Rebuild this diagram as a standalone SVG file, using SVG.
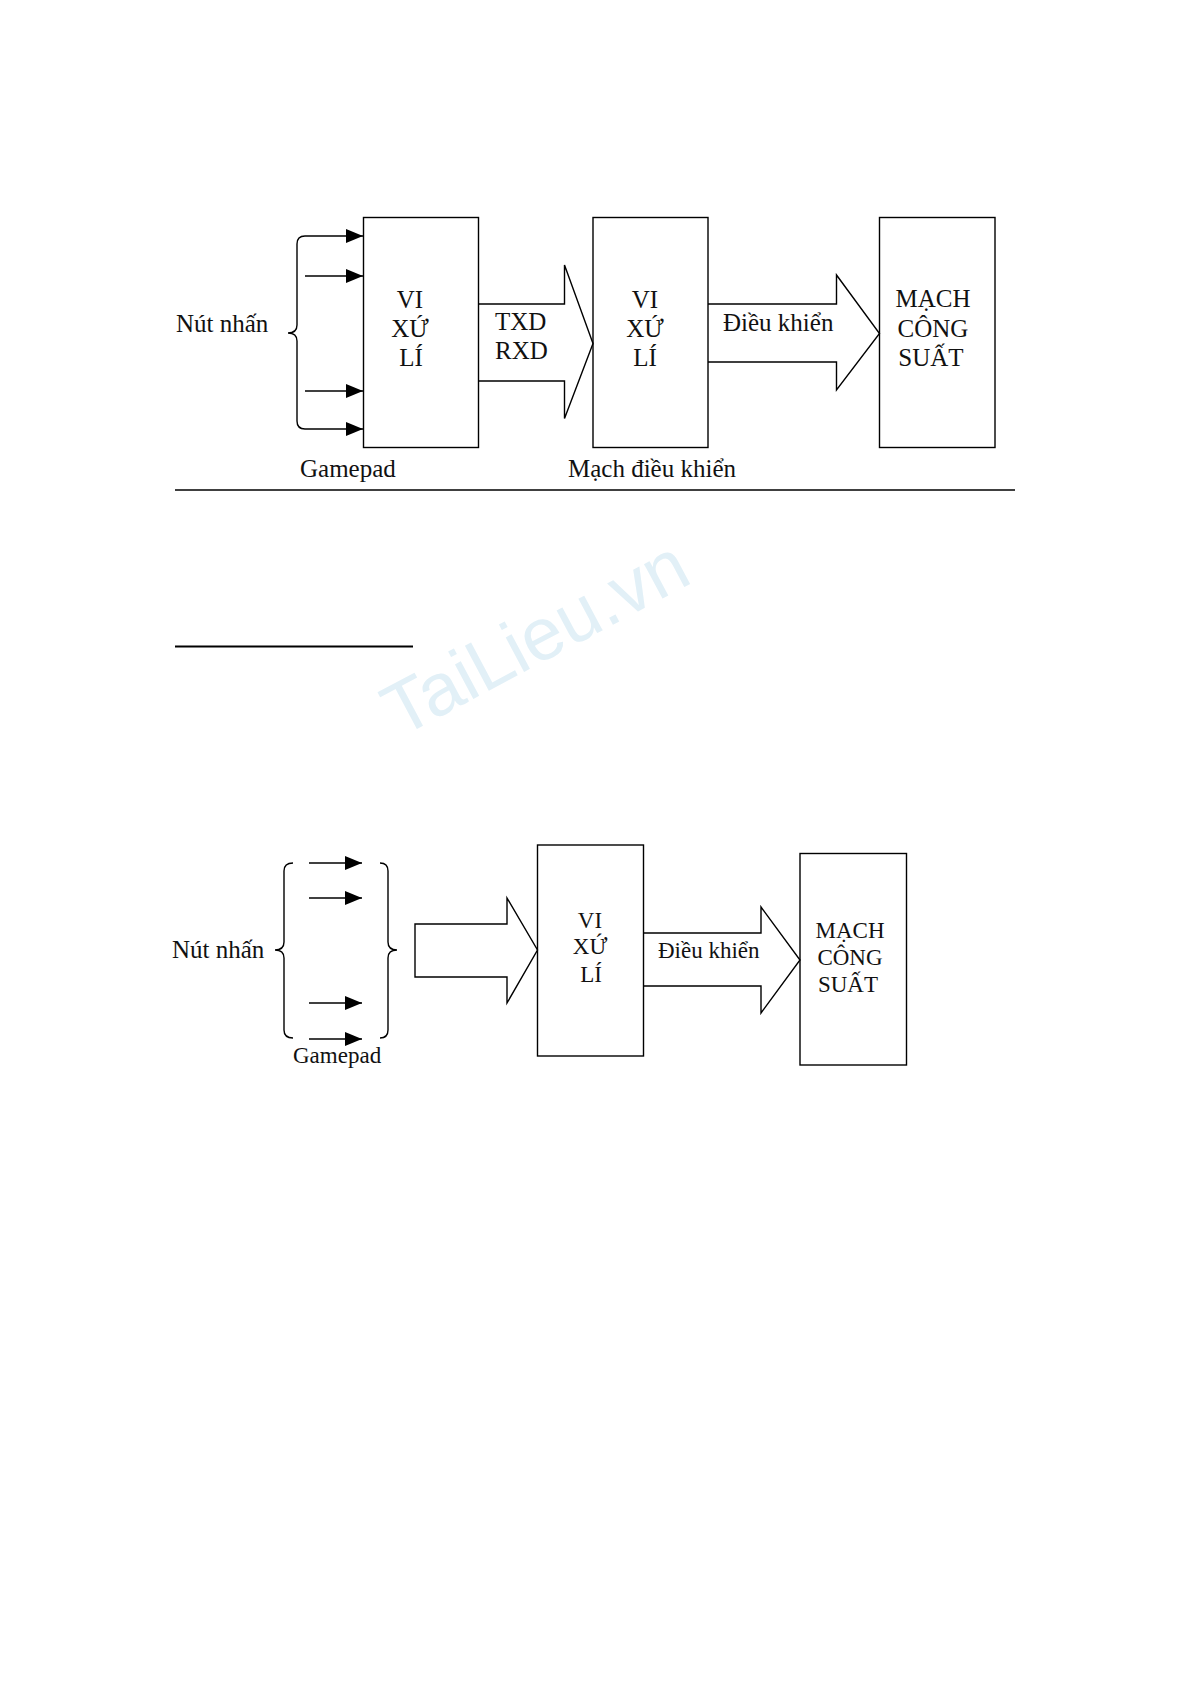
<svg xmlns="http://www.w3.org/2000/svg" width="1191" height="1685" viewBox="0 0 1191 1685">
<style>
.bx{fill:none;stroke:#000;stroke-width:1.4}
.ln{fill:none;stroke:#000;stroke-width:1.4}
.t1{font-family:"Liberation Serif","Times New Roman",serif;font-size:25px;fill:#111}
.t2{font-family:"Liberation Serif","Times New Roman",serif;font-size:23px;fill:#111}
.m{text-anchor:middle}
</style>
<defs>
<marker id="ah" markerUnits="userSpaceOnUse" markerWidth="17" markerHeight="14" refX="17" refY="7" orient="auto">
<path d="M0,0 L17,7 L0,14 Z" fill="#000"/>
</marker>
</defs>
<rect x="0" y="0" width="1191" height="1685" fill="#fff"/>
<text x="400" y="738" transform="rotate(-28 400 738)" font-family="'Liberation Sans',Arial,sans-serif" font-size="74" fill="#e2f0f7">TaiLieu.vn</text>

<!-- Diagram 1 -->
<g id="brace1">
<path class="ln" d="M305,236 Q297,236 297,244 L297,325 Q297,333 288,333 Q297,333 297,341 L297,421 Q297,429 305,429"/>
<text class="t1" x="176" y="332">Nút nhấn</text>
<text class="t1" x="300" y="477">Gamepad</text>
</g>
<g id="cpu1">
<rect class="bx" x="363.5" y="217.5" width="115" height="230"/>
<text class="t1 m" x="410" y="308">VI</text>
<text class="t1 m" x="410" y="337">XỨ</text>
<text class="t1 m" x="411" y="366">LÍ</text>
</g>
<g id="cpu2">
<rect class="bx" x="593" y="217.5" width="115" height="230"/>
<text class="t1 m" x="645" y="308">VI</text>
<text class="t1 m" x="645" y="337">XỨ</text>
<text class="t1 m" x="645" y="366">LÍ</text>
<text class="t1" x="568" y="477">Mạch điều khiển</text>
</g>
<g id="power1">
<rect class="bx" x="879.5" y="217.5" width="115.5" height="230"/>
<text class="t1 m" x="933" y="307">MẠCH</text>
<text class="t1 m" x="933" y="337">CÔNG</text>
<text class="t1 m" x="931" y="366">SUẤT</text>
</g>
<g id="connectors1">
<line class="ln" x1="305" y1="236" x2="363" y2="236" marker-end="url(#ah)"/>
<line class="ln" x1="305" y1="276" x2="363" y2="276" marker-end="url(#ah)"/>
<line class="ln" x1="305" y1="391" x2="363" y2="391" marker-end="url(#ah)"/>
<line class="ln" x1="305" y1="429" x2="363" y2="429" marker-end="url(#ah)"/>
<path class="ln" d="M478.5,304 L564.5,304 L564.5,265 L593,343.5 L564.5,418.5 L564.5,381 L478.5,381"/>
<text class="t1" x="495" y="330">TXD</text>
<text class="t1" x="495" y="359">RXD</text>
<path class="ln" d="M708,304 L836.5,304 L836.5,275 L879.5,333.5 L836.5,390 L836.5,362 L708,362"/>
<text class="t1" x="723" y="331">Điều khiển</text>
</g>
<line x1="175" y1="490" x2="1015" y2="490" stroke="#000" stroke-width="1.3"/>

<line x1="175" y1="646.5" x2="413" y2="646.5" stroke="#000" stroke-width="2"/>

<!-- Diagram 2 -->
<g id="brace2">
<path class="ln" d="M293,863 Q284,863 284,871 L284,942 Q284,950 275,950 Q284,950 284,958 L284,1030 Q284,1038 293,1038"/>
<path class="ln" d="M380,863 Q388,863 388,871 L388,942 Q388,950 397,950 Q388,950 388,958 L388,1030 Q388,1038 380,1038"/>
<text class="t1" x="172" y="958">Nút nhấn</text>
<text class="t2" x="293" y="1063">Gamepad</text>
</g>
<g id="cpu3">
<rect class="bx" x="537.5" y="845" width="106" height="211"/>
<text class="t2 m" x="590" y="928">VI</text>
<text class="t2 m" x="590" y="954">XỨ</text>
<text class="t2 m" x="591" y="982">LÍ</text>
</g>
<g id="power2">
<rect class="bx" x="800" y="853.5" width="106.5" height="211.5"/>
<text class="t2 m" x="850" y="938">MẠCH</text>
<text class="t2 m" x="850" y="965">CÔNG</text>
<text class="t2 m" x="848" y="992">SUẤT</text>
</g>
<g id="connectors2">
<line class="ln" x1="309" y1="863" x2="362" y2="863" marker-end="url(#ah)"/>
<line class="ln" x1="309" y1="898" x2="362" y2="898" marker-end="url(#ah)"/>
<line class="ln" x1="309" y1="1003" x2="362" y2="1003" marker-end="url(#ah)"/>
<line class="ln" x1="309" y1="1039" x2="362" y2="1039" marker-end="url(#ah)"/>
<path class="ln" d="M507,924 L415,924 L415,977 L507,977 L507,1003 L537.5,950 L507,898 Z"/>
<path class="ln" d="M643.5,933 L761,933 L761,907 L800,960 L761,1013 L761,986 L643.5,986"/>
<text class="t2" x="658" y="958">Điều khiển</text>
</g>
</svg>
